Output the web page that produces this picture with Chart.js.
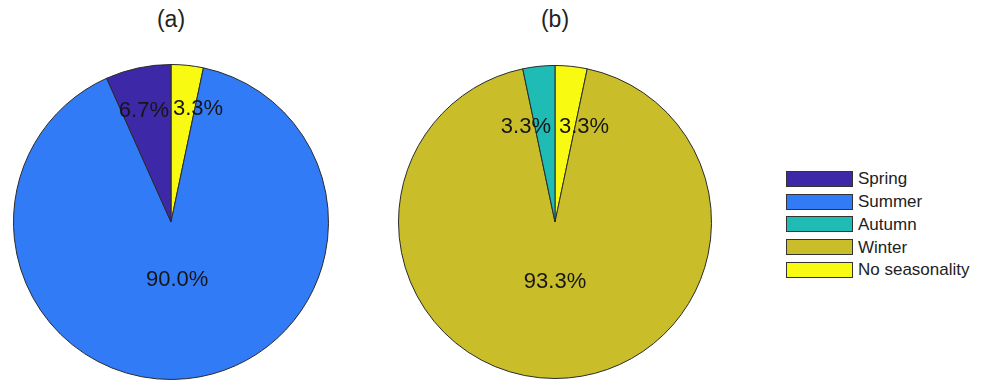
<!DOCTYPE html>
<html>
<head>
<meta charset="utf-8">
<script src="https://cdn.jsdelivr.net/npm/chart.js@4.4.1/dist/chart.umd.min.js"></script>
<style>
  html, body { margin: 0; padding: 0; background: #fff; }
  body { width: 990px; height: 381px; position: relative; overflow: hidden;
         font-family: "Liberation Sans", Arial, sans-serif; color: #222; }
  .title { position: absolute; width: 100px; text-align: center; font-size: 23px; line-height: 23px; }
  canvas { position: absolute; }
  #legend { position: absolute; left: 786px; top: 167.6px; }
  .row { display: flex; align-items: center; height: 22.75px; }
  .box { width: 65px; height: 14px; border: 1px solid #333; margin-right: 5px; }
  .lab { font-size: 17px; line-height: 17px; color: #222; }
</style>
</head>
<body>
<div class="title" id="tA" style="left:121px; top:7.5px;"></div>
<div class="title" id="tB" style="left:505px; top:7.5px;"></div>
<canvas id="pieA" width="316" height="316" style="left:13px; top:64px;"></canvas>
<canvas id="pieB" width="314" height="314" style="left:398px; top:65px;"></canvas>
<div id="legend"></div>
<script>
// ---- data ----
const categories = ['Spring', 'Summer', 'Autumn', 'Winter', 'No seasonality'];
const valuesA = [6.7, 90.0, 0, 0, 3.3];
const valuesB = [0, 0, 3.3, 93.3, 3.3];
const panelTitles = ['(a)', '(b)'];

// ---- style ----
const colors = ['#3D28A8', '#327BF7', '#1FBBB5', '#C9BE2A', '#F8FA12'];

document.getElementById('tA').textContent = panelTitles[0];
document.getElementById('tB').textContent = panelTitles[1];

// legend
const legendEl = document.getElementById('legend');
categories.forEach((c, i) => {
  const row = document.createElement('div');
  row.className = 'row';
  const box = document.createElement('div');
  box.className = 'box';
  box.style.background = colors[i];
  const lab = document.createElement('div');
  lab.className = 'lab';
  lab.textContent = c;
  row.appendChild(box); row.appendChild(lab);
  legendEl.appendChild(row);
});

// Chart.js draws clockwise from the top; the reference goes counter-clockwise,
// so the category order is reversed. Zero slices are omitted.
function buildSlices(values) {
  const idx = categories.map((c, i) => i).reverse().filter(i => values[i] > 0);
  return {
    labels: idx.map(i => categories[i]),
    data: idx.map(i => values[i]),
    colors: idx.map(i => colors[i])
  };
}

const pctLabels = {
  id: 'pctLabels',
  afterDatasetsDraw(chart, args, opts) {
    const ctx = chart.ctx;
    const meta = chart.getDatasetMeta(0);
    const data = chart.data.datasets[0].data;
    ctx.save();
    ctx.font = '22px "Liberation Sans", Arial, sans-serif';
    ctx.fillStyle = '#161616';
    ctx.textBaseline = 'middle';
    meta.data.forEach((arc, i) => {
      const p = arc.getProps(['x', 'y', 'startAngle', 'endAngle', 'outerRadius'], true);
      const mid = (p.startAngle + p.endAngle) / 2;
      const txt = data[i].toFixed(1) + '%';
      if (data[i] > 50) {
        const r = p.outerRadius * opts.bigFrac;
        ctx.textAlign = 'center';
        ctx.fillText(txt, p.x + r * Math.cos(mid), p.y + r * Math.sin(mid));
      } else {
        const r = p.outerRadius * opts.smallFrac;
        const y = p.y + r * Math.sin(mid);
        const right = Math.cos(mid) > 0;
        ctx.textAlign = right ? 'left' : 'right';
        ctx.fillText(txt, p.x + (right ? opts.gap : -opts.gap), y);
      }
    });
    ctx.restore();
  }
};

function makePie(id, values, labelOpts) {
  const s = buildSlices(values);
  return new Chart(document.getElementById(id), {
    type: 'pie',
    data: {
      labels: s.labels,
      datasets: [{
        data: s.data,
        backgroundColor: s.colors,
        borderColor: '#2a2a2a',
        borderWidth: 1
      }]
    },
    options: {
      responsive: false,
      animation: false,
      devicePixelRatio: 1,
      layout: { padding: 0 },
      plugins: {
        legend: { display: false },
        tooltip: { enabled: false },
        pctLabels: labelOpts
      }
    },
    plugins: [pctLabels]
  });
}

makePie('pieA', valuesA, { smallFrac: 0.722, bigFrac: 0.367, gap: 2 });
makePie('pieB', valuesB, { smallFrac: 0.608, bigFrac: 0.38, gap: 4 });
</script>
</body>
</html>
